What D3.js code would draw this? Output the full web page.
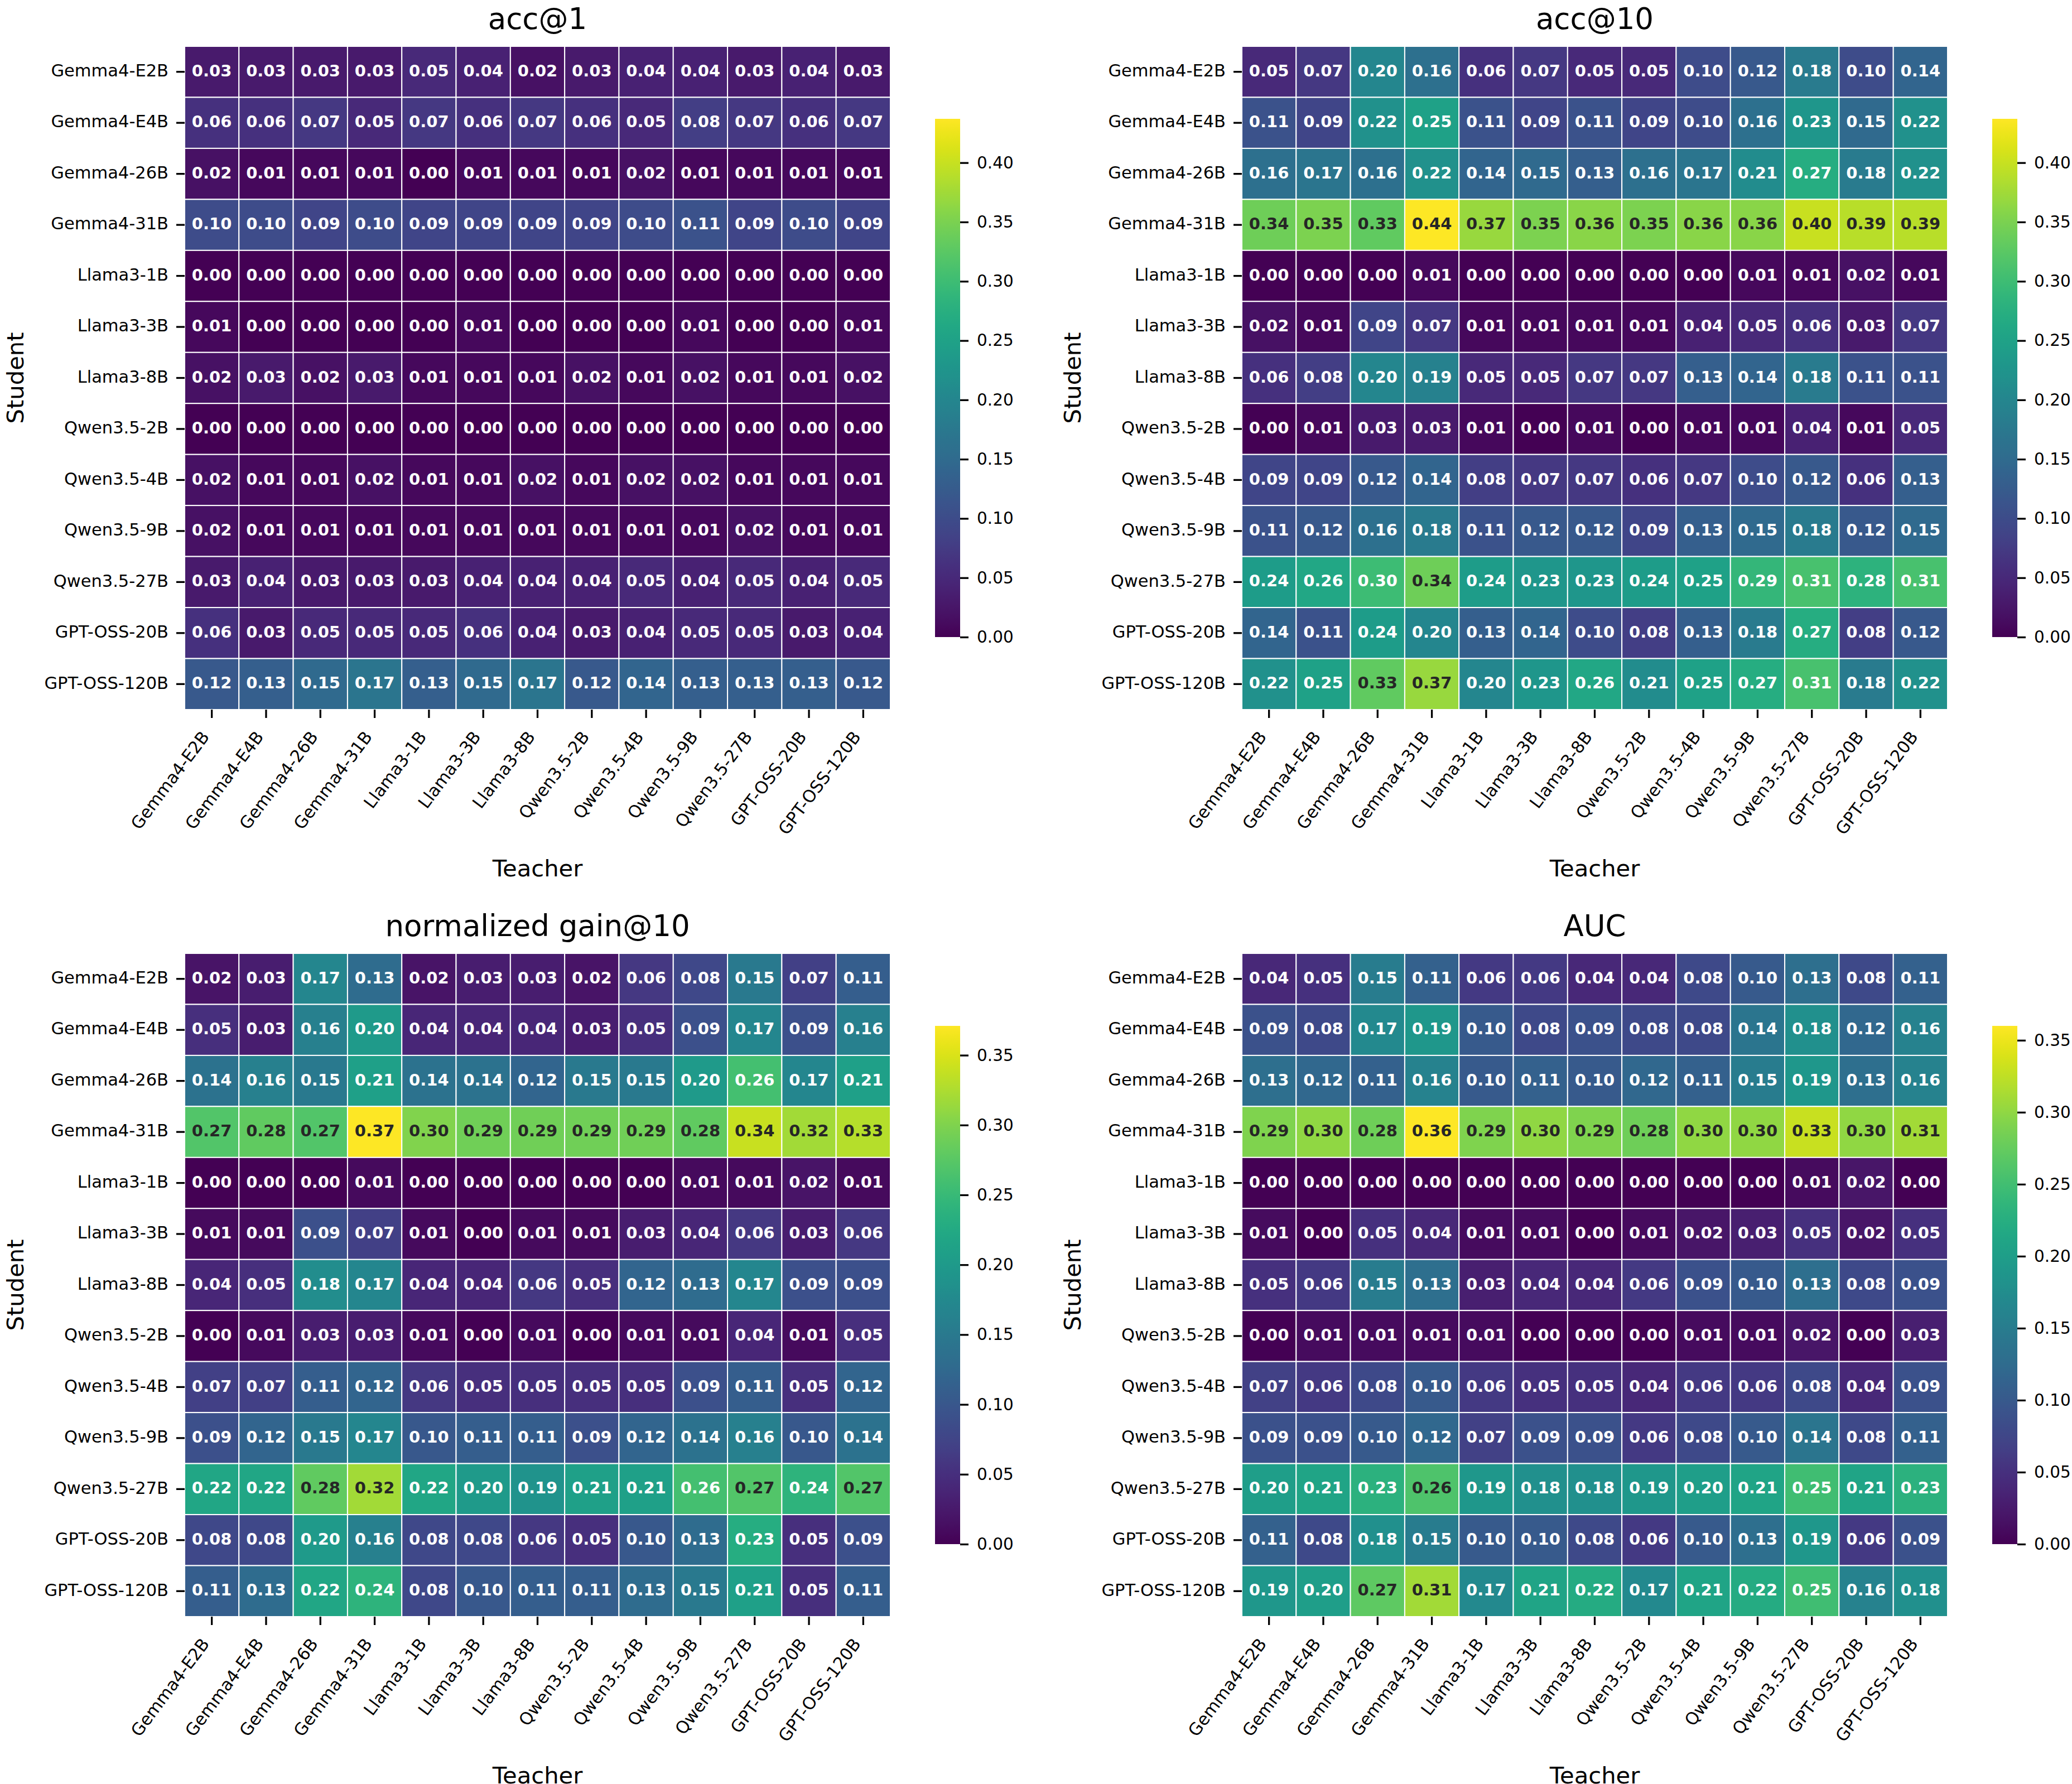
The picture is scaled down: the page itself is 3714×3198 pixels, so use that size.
<!DOCTYPE html>
<html>
<head>
  <title>Teacher / Student heatmaps</title>
  <style>
    html, body {
      margin: 0;
      padding: 0;
      background: #fff;
    }
    text {
      font-family: "DejaVu Sans", sans-serif;
    }
  </style>
  <script src="https://d3js.org/d3.v7.min.js"></script>
</head>
<body>
  <div id="chart"></div>

  <script>
    const models = ["Gemma4-E2B", "Gemma4-E4B", "Gemma4-26B", "Gemma4-31B", "Llama3-1B", "Llama3-3B",
      "Llama3-8B", "Qwen3.5-2B", "Qwen3.5-4B", "Qwen3.5-9B", "Qwen3.5-27B", "GPT-OSS-20B", "GPT-OSS-120B"];
    const teachers = models; // columns
    const students = models; // rows

    const titles = ["acc@1", "acc@10", "normalized gain@10", "AUC"];
    // top of each colorbar (the two top panels share one scale)
    const colorMax = [0.437, 0.437, 0.371, 0.360];

    const acc1 = [
      [0.03, 0.03, 0.03, 0.03, 0.05, 0.04, 0.02, 0.03, 0.04, 0.04, 0.03, 0.04, 0.03],
      [0.06, 0.06, 0.07, 0.05, 0.07, 0.06, 0.07, 0.06, 0.05, 0.08, 0.07, 0.06, 0.07],
      [0.02, 0.01, 0.01, 0.01, 0.00, 0.01, 0.01, 0.01, 0.02, 0.01, 0.01, 0.01, 0.01],
      [0.10, 0.10, 0.09, 0.10, 0.09, 0.09, 0.09, 0.09, 0.10, 0.11, 0.09, 0.10, 0.09],
      [0.00, 0.00, 0.00, 0.00, 0.00, 0.00, 0.00, 0.00, 0.00, 0.00, 0.00, 0.00, 0.00],
      [0.01, 0.00, 0.00, 0.00, 0.00, 0.01, 0.00, 0.00, 0.00, 0.01, 0.00, 0.00, 0.01],
      [0.02, 0.03, 0.02, 0.03, 0.01, 0.01, 0.01, 0.02, 0.01, 0.02, 0.01, 0.01, 0.02],
      [0.00, 0.00, 0.00, 0.00, 0.00, 0.00, 0.00, 0.00, 0.00, 0.00, 0.00, 0.00, 0.00],
      [0.02, 0.01, 0.01, 0.02, 0.01, 0.01, 0.02, 0.01, 0.02, 0.02, 0.01, 0.01, 0.01],
      [0.02, 0.01, 0.01, 0.01, 0.01, 0.01, 0.01, 0.01, 0.01, 0.01, 0.02, 0.01, 0.01],
      [0.03, 0.04, 0.03, 0.03, 0.03, 0.04, 0.04, 0.04, 0.05, 0.04, 0.05, 0.04, 0.05],
      [0.06, 0.03, 0.05, 0.05, 0.05, 0.06, 0.04, 0.03, 0.04, 0.05, 0.05, 0.03, 0.04],
      [0.12, 0.13, 0.15, 0.17, 0.13, 0.15, 0.17, 0.12, 0.14, 0.13, 0.13, 0.13, 0.12]
    ];

    const acc10 = [
      [0.05, 0.07, 0.20, 0.16, 0.06, 0.07, 0.05, 0.05, 0.10, 0.12, 0.18, 0.10, 0.14],
      [0.11, 0.09, 0.22, 0.25, 0.11, 0.09, 0.11, 0.09, 0.10, 0.16, 0.23, 0.15, 0.22],
      [0.16, 0.17, 0.16, 0.22, 0.14, 0.15, 0.13, 0.16, 0.17, 0.21, 0.27, 0.18, 0.22],
      [0.34, 0.35, 0.33, 0.44, 0.37, 0.35, 0.36, 0.35, 0.36, 0.36, 0.40, 0.39, 0.39],
      [0.00, 0.00, 0.00, 0.01, 0.00, 0.00, 0.00, 0.00, 0.00, 0.01, 0.01, 0.02, 0.01],
      [0.02, 0.01, 0.09, 0.07, 0.01, 0.01, 0.01, 0.01, 0.04, 0.05, 0.06, 0.03, 0.07],
      [0.06, 0.08, 0.20, 0.19, 0.05, 0.05, 0.07, 0.07, 0.13, 0.14, 0.18, 0.11, 0.11],
      [0.00, 0.01, 0.03, 0.03, 0.01, 0.00, 0.01, 0.00, 0.01, 0.01, 0.04, 0.01, 0.05],
      [0.09, 0.09, 0.12, 0.14, 0.08, 0.07, 0.07, 0.06, 0.07, 0.10, 0.12, 0.06, 0.13],
      [0.11, 0.12, 0.16, 0.18, 0.11, 0.12, 0.12, 0.09, 0.13, 0.15, 0.18, 0.12, 0.15],
      [0.24, 0.26, 0.30, 0.34, 0.24, 0.23, 0.23, 0.24, 0.25, 0.29, 0.31, 0.28, 0.31],
      [0.14, 0.11, 0.24, 0.20, 0.13, 0.14, 0.10, 0.08, 0.13, 0.18, 0.27, 0.08, 0.12],
      [0.22, 0.25, 0.33, 0.37, 0.20, 0.23, 0.26, 0.21, 0.25, 0.27, 0.31, 0.18, 0.22]
    ];

    const gain10 = [
      [0.02, 0.03, 0.17, 0.13, 0.02, 0.03, 0.03, 0.02, 0.06, 0.08, 0.15, 0.07, 0.11],
      [0.05, 0.03, 0.16, 0.20, 0.04, 0.04, 0.04, 0.03, 0.05, 0.09, 0.17, 0.09, 0.16],
      [0.14, 0.16, 0.15, 0.21, 0.14, 0.14, 0.12, 0.15, 0.15, 0.20, 0.26, 0.17, 0.21],
      [0.27, 0.28, 0.27, 0.37, 0.30, 0.29, 0.29, 0.29, 0.29, 0.28, 0.34, 0.32, 0.33],
      [0.00, 0.00, 0.00, 0.01, 0.00, 0.00, 0.00, 0.00, 0.00, 0.01, 0.01, 0.02, 0.01],
      [0.01, 0.01, 0.09, 0.07, 0.01, 0.00, 0.01, 0.01, 0.03, 0.04, 0.06, 0.03, 0.06],
      [0.04, 0.05, 0.18, 0.17, 0.04, 0.04, 0.06, 0.05, 0.12, 0.13, 0.17, 0.09, 0.09],
      [0.00, 0.01, 0.03, 0.03, 0.01, 0.00, 0.01, 0.00, 0.01, 0.01, 0.04, 0.01, 0.05],
      [0.07, 0.07, 0.11, 0.12, 0.06, 0.05, 0.05, 0.05, 0.05, 0.09, 0.11, 0.05, 0.12],
      [0.09, 0.12, 0.15, 0.17, 0.10, 0.11, 0.11, 0.09, 0.12, 0.14, 0.16, 0.10, 0.14],
      [0.22, 0.22, 0.28, 0.32, 0.22, 0.20, 0.19, 0.21, 0.21, 0.26, 0.27, 0.24, 0.27],
      [0.08, 0.08, 0.20, 0.16, 0.08, 0.08, 0.06, 0.05, 0.10, 0.13, 0.23, 0.05, 0.09],
      [0.11, 0.13, 0.22, 0.24, 0.08, 0.10, 0.11, 0.11, 0.13, 0.15, 0.21, 0.05, 0.11]
    ];

    const auc = [
      [0.04, 0.05, 0.15, 0.11, 0.06, 0.06, 0.04, 0.04, 0.08, 0.10, 0.13, 0.08, 0.11],
      [0.09, 0.08, 0.17, 0.19, 0.10, 0.08, 0.09, 0.08, 0.08, 0.14, 0.18, 0.12, 0.16],
      [0.13, 0.12, 0.11, 0.16, 0.10, 0.11, 0.10, 0.12, 0.11, 0.15, 0.19, 0.13, 0.16],
      [0.29, 0.30, 0.28, 0.36, 0.29, 0.30, 0.29, 0.28, 0.30, 0.30, 0.33, 0.30, 0.31],
      [0.00, 0.00, 0.00, 0.00, 0.00, 0.00, 0.00, 0.00, 0.00, 0.00, 0.01, 0.02, 0.00],
      [0.01, 0.00, 0.05, 0.04, 0.01, 0.01, 0.00, 0.01, 0.02, 0.03, 0.05, 0.02, 0.05],
      [0.05, 0.06, 0.15, 0.13, 0.03, 0.04, 0.04, 0.06, 0.09, 0.10, 0.13, 0.08, 0.09],
      [0.00, 0.01, 0.01, 0.01, 0.01, 0.00, 0.00, 0.00, 0.01, 0.01, 0.02, 0.00, 0.03],
      [0.07, 0.06, 0.08, 0.10, 0.06, 0.05, 0.05, 0.04, 0.06, 0.06, 0.08, 0.04, 0.09],
      [0.09, 0.09, 0.10, 0.12, 0.07, 0.09, 0.09, 0.06, 0.08, 0.10, 0.14, 0.08, 0.11],
      [0.20, 0.21, 0.23, 0.26, 0.19, 0.18, 0.18, 0.19, 0.20, 0.21, 0.25, 0.21, 0.23],
      [0.11, 0.08, 0.18, 0.15, 0.10, 0.10, 0.08, 0.06, 0.10, 0.13, 0.19, 0.06, 0.09],
      [0.19, 0.20, 0.27, 0.31, 0.17, 0.21, 0.22, 0.17, 0.21, 0.22, 0.25, 0.16, 0.18]
    ];

    const matrices = [acc1, acc10, gain10, auc];

    const width = 3714;
    const height = 3198;
    const heatW = 1265, heatH = 1189;
    const colX = [331, 2226];
    const rowY = [83, 1709];
    const tickFont = 30.5;
    const labelFont = 41.7;
    const titleFont = 53;

    const svg = d3.select("#chart")
      .append("svg")
      .attr("width", width)
      .attr("height", height)
      .style("background", "#fff");

    const defs = svg.append("defs");

    // seaborn-style text colour choice from cell luminance
    function textColor(c) {
      const rgb = d3.rgb(c);
      const f = v => {
        v = v / 255;
        return v <= 0.03928 ? v / 12.92 : Math.pow((v + 0.055) / 1.055, 2.4);
      };
      const lum = 0.2126 * f(rgb.r) + 0.7152 * f(rgb.g) + 0.0722 * f(rgb.b);
      return lum > 0.408 ? "#262626" : "#ffffff";
    }

    const x = d3.scaleBand().domain(teachers).range([0, heatW]);
    const y = d3.scaleBand().domain(students).range([0, heatH]);

    matrices.forEach((m, i) => {
      const left = colX[i % 2];
      const top = rowY[Math.floor(i / 2)];
      const vmax = colorMax[i];
      const color = d3.scaleSequential(d3.interpolateViridis).domain([0, vmax]);

      const g = svg.append("g").attr("transform", `translate(${left},${top})`);

      const cells = [];
      m.forEach((row, r) => row.forEach((v, c) => cells.push({ s: students[r], t: teachers[c], v: v })));

      g.selectAll(".cell")
        .data(cells)
        .enter()
        .append("rect")
        .attr("class", "cell")
        .attr("x", d => x(d.t))
        .attr("y", d => y(d.s))
        .attr("width", x.bandwidth())
        .attr("height", y.bandwidth())
        .attr("fill", d => color(d.v))
        .attr("stroke", "#ffffff")
        .attr("stroke-width", 2);

      g.selectAll(".annot")
        .data(cells)
        .enter()
        .append("text")
        .attr("class", "annot")
        .attr("x", d => x(d.t) + x.bandwidth() / 2)
        .attr("y", d => y(d.s) + y.bandwidth() / 2)
        .attr("dy", "0.28em")
        .attr("text-anchor", "middle")
        .attr("font-size", 29)
        .attr("font-weight", "bold")
        .attr("fill", d => textColor(color(d.v)))
        .text(d => d.v.toFixed(2));

      // y axis (students)
      g.append("g")
        .call(d3.axisLeft(y).tickSize(15).tickPadding(14))
        .call(a => a.select(".domain").remove())
        .call(a => a.selectAll("line").attr("stroke", "#000").attr("stroke-width", 3.3))
        .call(a => a.selectAll("text")
          .attr("dy", "0.27em")
          .attr("font-size", tickFont)
          .attr("font-family", "DejaVu Sans")
          .attr("fill", "#000"));

      // x axis (teachers), rotated labels
      g.append("g")
        .attr("transform", `translate(0,${heatH})`)
        .call(d3.axisBottom(x).tickSize(15))
        .call(a => a.select(".domain").remove())
        .call(a => a.selectAll("line").attr("stroke", "#000").attr("stroke-width", 3.3))
        .call(a => a.selectAll("text")
          .attr("y", null)
          .attr("dy", null)
          .attr("text-anchor", "end")
          .attr("transform", "translate(-3,49) rotate(-53)")
          .attr("font-size", tickFont)
          .attr("font-family", "DejaVu Sans")
          .attr("fill", "#000"));

      // title and axis labels
      g.append("text")
        .attr("x", heatW / 2)
        .attr("y", -31)
        .attr("text-anchor", "middle")
        .attr("font-size", titleFont)
        .text(titles[i]);

      g.append("text")
        .attr("x", heatW / 2)
        .attr("y", heatH + 299)
        .attr("text-anchor", "middle")
        .attr("font-size", labelFont)
        .text("Teacher");

      g.append("text")
        .attr("transform", `translate(-289,${heatH / 2}) rotate(-90)`)
        .attr("text-anchor", "middle")
        .attr("font-size", labelFont)
        .text("Student");

      // colorbar
      const cbX = heatW + 80, cbY = 130, cbW = 45, cbH = 929;
      const gradId = "grad" + i;
      const grad = defs.append("linearGradient")
        .attr("id", gradId)
        .attr("x1", 0).attr("y1", 1).attr("x2", 0).attr("y2", 0);
      d3.range(0, 1.0001, 0.02).forEach(t => {
        grad.append("stop")
          .attr("offset", t)
          .attr("stop-color", d3.interpolateViridis(t));
      });

      const cb = g.append("g").attr("transform", `translate(${cbX},${cbY})`);
      cb.append("rect")
        .attr("width", cbW)
        .attr("height", cbH)
        .attr("fill", `url(#${gradId})`);

      const cbScale = d3.scaleLinear().domain([0, vmax]).range([cbH, 0]);
      const cbTicks = d3.range(0, vmax + 1e-9, 0.05);
      cb.append("g")
        .attr("transform", `translate(${cbW},0)`)
        .call(d3.axisRight(cbScale).tickValues(cbTicks).tickFormat(d3.format(".2f")).tickSize(15).tickPadding(15))
        .call(a => a.select(".domain").remove())
        .call(a => a.selectAll("line").attr("stroke", "#000").attr("stroke-width", 3.3))
        .call(a => a.selectAll("text")
          .attr("font-size", 29.5)
          .attr("font-family", "DejaVu Sans")
          .attr("fill", "#000"));
    });
  </script>
</body>
</html>
